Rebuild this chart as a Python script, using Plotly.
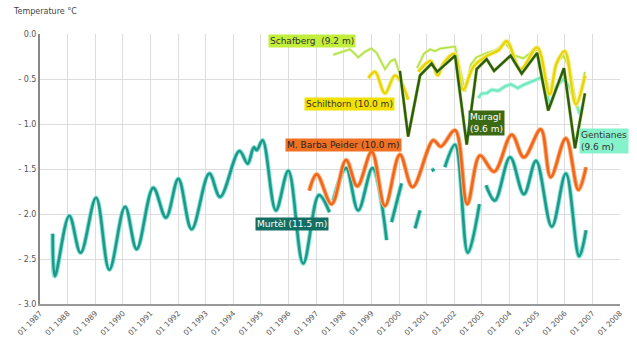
import plotly.graph_objects as go

years = list(range(1987, 2009))
year_labels = [f"01 {y}" for y in years]
y_ticks = [0.0, -0.5, -1.0, -1.5, -2.0, -2.5, -3.0]
y_tick_labels = ["0.0", "- 0.5", "- 1.0", "- 1.5", "- 2.0", "- 2.5", "- 3.0"]

murtel_x = [1987.46, 1987.54, 1988.06, 1988.47, 1989.03, 1989.51, 1990.08, 1990.5, 1991.1, 1991.56,
            1992.01, 1992.49, 1993.13, 1993.52, 1994.22, 1994.52, 1994.74, 1994.85, 1995.06, 1995.54,
            1995.99, 1996.53, 1997.1, 1997.48, None, 1997.62, 1998.08, 1998.52, 1999.04, 1999.55, None,
            1999.73, 2000.09, None, 2000.58, 2000.76, None, 2001.18, 2001.28, None, 2001.66, 2002.03,
            2002.49, 2002.91, None, 2003.15, 2003.47, 2004.02, 2004.52, 2004.96, 2005.53, 2006.04,
            2006.52, 2006.77]
murtel_y = [-2.22, -2.69, -2.02, -2.43, -1.82, -2.62, -1.92, -2.39, -1.71, -2.04,
            -1.61, -2.17, -1.55, -1.81, -1.30, -1.44, -1.26, -1.29, -1.18, -1.96,
            -1.52, -2.55, -1.79, -1.98, None, -1.85, -1.49, -1.96, -1.49, -2.29, None,
            -2.09, -1.66, None, -2.16, -1.96, None, -1.52, -1.50, None, -1.48, -1.23,
            -2.43, -1.89, None, -1.68, -1.85, -1.37, -1.78, -1.41, -2.14, -1.55,
            -2.47, -2.18]

barba_x = [1996.75, 1997.02, 1997.56, 1998.08, 1998.49, 1999.01, 1999.49, 2000.03, 2000.49, 2001.24,
           2001.51, 2002.03, 2002.47, 2002.93, 2003.44, 2004.08, 2004.52, 2005.13, 2005.49, 2006.04,
           2006.49, 2006.77]
barba_y = [-1.74, -1.56, -1.89, -1.40, -1.69, -1.31, -1.91, -1.34, -1.70, -1.18,
           -1.25, -1.07, -1.89, -1.35, -1.53, -1.12, -1.37, -1.06, -1.59, -1.16,
           -1.73, -1.48]

muragl_x = [2000.03, 2000.33, 2000.76, 2001.18, 2001.38, 2002.03, 2002.45, 2002.81, 2003.17, 2003.44,
            2004.04, 2004.44, 2005.0, 2005.4, 2005.97, 2006.37, 2006.73]
muragl_y = [-0.41, -1.14, -0.46, -0.33, -0.42, -0.24, -1.23, -0.39, -0.28, -0.41,
            -0.24, -0.44, -0.21, -0.85, -0.38, -1.27, -0.66]

schafberg_x = [1997.62, 1997.85, 1998.0, 1998.22, 1998.4, 1998.52, 1998.75, 1999.0, 1999.19, 1999.49,
               1999.7, 1999.85, 2000.0, None, 2000.65, 2000.9, 2001.12, 2001.3, 2001.5, 2001.8, 2002.03,
               2002.39, 2002.6, 2002.8, 2003.17, 2003.5, 2003.84, 2004.0, 2004.2, 2004.5, 2004.8,
               2005.04, 2005.47, 2005.7, 2005.95, 2006.2, 2006.43, 2006.73]
schafberg_y = [-0.23, -0.21, -0.19, -0.17, -0.22, -0.26, -0.20, -0.16, -0.21, -0.39,
               -0.30, -0.28, -0.42, None, -0.38, -0.22, -0.17, -0.19, -0.16, -0.15, -0.14,
               -0.64, -0.34, -0.26, -0.21, -0.18, -0.10, -0.16, -0.24, -0.27, -0.20,
               -0.17, -0.67, -0.32, -0.24, -0.40, -0.82, -0.42]

schilthorn_x = [1998.89, 1999.13, 1999.49, 1999.85, 2000.1, 2000.33, None, 2000.7, 2001.15, 2001.4,
                2001.6, 2002.0, 2002.32, 2002.7, 2003.2, 2003.6, 2003.9, 2004.4, 2005.0, 2005.45,
                2005.7, 2006.0, 2006.4, 2006.73]
schilthorn_y = [-0.49, -0.42, -0.66, -0.46, -0.55, -0.73, None, -0.42, -0.30, -0.46,
                -0.33, -0.22, -0.62, -0.36, -0.24, -0.18, -0.08, -0.39, -0.15, -0.67,
                -0.33, -0.19, -0.78, -0.46]

gentianes_x = [2002.87, 2003.0, 2003.17, 2003.35, 2003.6, 2003.85, 2004.05, 2004.3, 2004.55, 2004.8,
               2005.1, 2005.22, 2005.47, 2005.7, 2005.95, 2006.2, 2006.45, 2006.55, 2006.65]
gentianes_y = [-0.71, -0.66, -0.66, -0.62, -0.63, -0.58, -0.56, -0.60, -0.56, -0.53,
               -0.49, -0.51, -0.80, -0.58, -0.50, -0.60, -0.80, -0.89, -0.80]

series = [
    ("Murtèl (11.5 m)", murtel_x, murtel_y, "#1f978a", "#7fe3d2", 2.6, 2, "spline"),
    ("M. Barba Peider (10.0 m)", barba_x, barba_y, "#f0661c", "#fbb27c", 2.6, 2, "spline"),
    ("Gentianes (9.6 m)", gentianes_x, gentianes_y, "#74e8c2", "#c4f7e6", 2.4, 2, "linear"),
    ("Schafberg (9.2 m)", schafberg_x, schafberg_y, "#b4e04a", "#e2f5a8", 1.5, 1.5, "linear"),
    ("Schilthorn (10.0 m)", schilthorn_x, schilthorn_y, "#e8d400", "#f7ee90", 2.4, 2, "spline"),
    ("Muragl (9.6 m)", muragl_x, muragl_y, "#2f5a16", "#b7dc6a", 2.4, 1, "linear"),
]

fig = go.Figure()
for name, xs, ys, core, glow, w, gw, shape in series:
    fig.add_trace(go.Scatter(x=xs, y=ys, mode="lines", name=name, showlegend=False,
                             line=dict(color=glow, width=w + gw, shape=shape), hoverinfo="skip"))
    fig.add_trace(go.Scatter(x=xs, y=ys, mode="lines", name=name, showlegend=False,
                             line=dict(color=core, width=w, shape=shape)))

labels = [
    ("Schafberg  (9.2 m)", 1996.85, -0.075, "#c2ef3c", "#333333"),
    ("Schilthorn (10.0 m)", 1998.22, -0.774, "#f2e000", "#333333"),
    ("M. Barba Peider (10.0 m)", 1998.0, -1.237, "#f07024", "#222222"),
    ("Murtèl (11.5 m)", 1996.12, -2.108, "#146e62", "#ffffff"),
    ("Muragl<br>(9.6 m)", 2003.18, -0.99, "#3c6a14", "#ffffff"),
    ("Gentianes<br>(9.6 m)", 2007.42, -1.19, "#86f2cc", "#333333"),
]
for text, x, y, bg, fc in labels:
    fig.add_annotation(x=x, y=y, text=text, showarrow=False, bgcolor=bg,
                       font=dict(size=9, color=fc, family="DejaVu Sans"),
                       borderpad=1, align="left")

fig.add_annotation(xref="paper", yref="paper", x=-0.05, y=1.06, xanchor="left", yanchor="bottom",
                   text="Temperature °C", showarrow=False,
                   font=dict(size=8, color="#444444", family="DejaVu Sans"))

fig.update_xaxes(range=[1987, 2008], tickmode="array", tickvals=years, ticktext=year_labels,
                 tickangle=-45, tickfont=dict(size=7.5, color="#555555", family="DejaVu Sans"),
                 showgrid=True, gridcolor="#dddddd", gridwidth=1,
                 showline=True, linecolor="#999999", linewidth=2, zeroline=False, ticks="")
fig.update_yaxes(range=[-3.0, 0.0], tickmode="array", tickvals=y_ticks, ticktext=y_tick_labels,
                 tickfont=dict(size=8, color="#555555", family="DejaVu Sans"),
                 showgrid=True, gridcolor="#dddddd", gridwidth=1,
                 showline=True, linecolor="#888888", linewidth=2, zeroline=False, ticks="")

fig.update_layout(width=637, height=349, margin=dict(l=40, r=17, t=34, b=36),
                  plot_bgcolor="white", paper_bgcolor="white",
                  font=dict(family="DejaVu Sans", size=8))

fig.write_html("out.html")
